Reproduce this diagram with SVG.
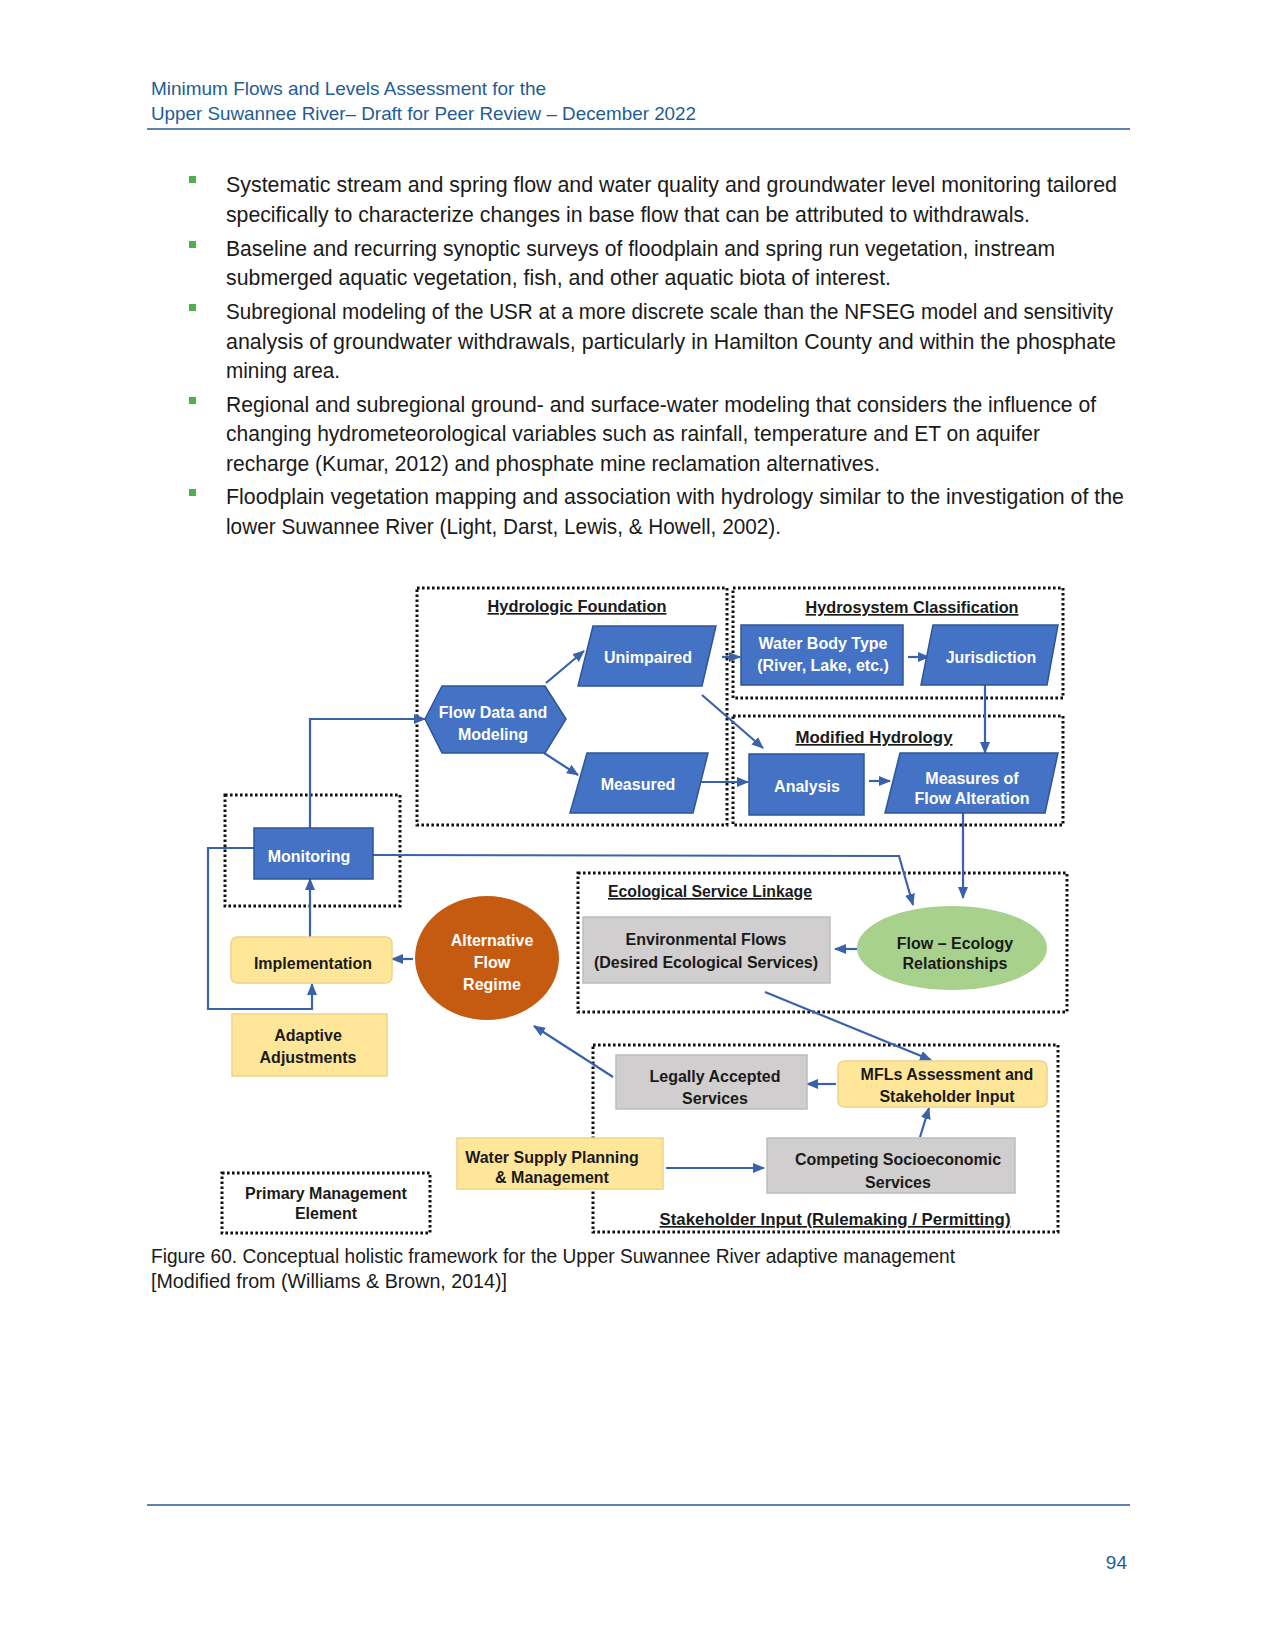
<svg xmlns="http://www.w3.org/2000/svg" width="1275" height="1651" viewBox="0 0 1275 1651">
<defs>
<marker id="ah" markerUnits="userSpaceOnUse" markerWidth="12" markerHeight="11" refX="11" refY="5" orient="auto">
<path d="M0,0 L12,5 L0,10 z" fill="#3A62AA"/>
</marker>
<style>
.hdr{font-family:"Liberation Sans",Arial,sans-serif;font-size:18.5px;fill:#1F5C96}
.body{font-family:"Liberation Sans",Arial,sans-serif;font-size:22px;fill:#1a1a1a}
.cap{font-family:"Liberation Sans",Arial,sans-serif;font-size:19.5px;fill:#1a1a1a}
.bul{fill:#4DB04A}
.grp{fill:none;stroke:#111;stroke-width:3;stroke-dasharray:2.6 2.4}
.ttl{font-family:"Liberation Sans",Arial,sans-serif;font-size:16.5px;font-weight:bold;fill:#1a1a1a;text-decoration:underline;text-anchor:middle}
.blue{fill:#4472C4;stroke:#2F5597;stroke-width:1.5}
.wt{font-family:"Liberation Sans",Arial,sans-serif;font-size:16px;font-weight:bold;fill:#fff;text-anchor:middle}
.dt{font-family:"Liberation Sans",Arial,sans-serif;font-size:16px;font-weight:bold;fill:#1a1a1a;text-anchor:middle}
.yel{fill:#FFE699;stroke:#EBD48A;stroke-width:1.5}
.gry{fill:#D0CECE;stroke:#BDBDBD;stroke-width:1.5}
.con{fill:none;stroke:#3A62AA;stroke-width:2.2}
.arr{marker-end:url(#ah)}
.rule{stroke:#5E82AA;stroke-width:2}
</style>
</defs>
<rect width="1275" height="1651" fill="#fff"/>

<g id="header">
<text class="hdr" x="151" y="95" textLength="395" lengthAdjust="spacingAndGlyphs">Minimum Flows and Levels Assessment for the</text>
<text class="hdr" x="151" y="120" textLength="545" lengthAdjust="spacingAndGlyphs">Upper Suwannee River– Draft for Peer Review – December 2022</text>
<line class="rule" x1="147" y1="129" x2="1130" y2="129"/>
</g>

<g id="bullets">
<rect class="bul" x="189" y="176" width="7" height="7"/>
<rect class="bul" x="189" y="241" width="7" height="7"/>
<rect class="bul" x="189" y="304" width="7" height="7"/>
<rect class="bul" x="189" y="397" width="7" height="7"/>
<rect class="bul" x="189" y="489" width="7" height="7"/>
<text class="body" x="226" y="192" textLength="891" lengthAdjust="spacingAndGlyphs">Systematic stream and spring flow and water quality and groundwater level monitoring tailored</text>
<text class="body" x="226" y="222" textLength="804" lengthAdjust="spacingAndGlyphs">specifically to characterize changes in base flow that can be attributed to withdrawals.</text>
<text class="body" x="226" y="256" textLength="829" lengthAdjust="spacingAndGlyphs">Baseline and recurring synoptic surveys of floodplain and spring run vegetation, instream</text>
<text class="body" x="226" y="285" textLength="665" lengthAdjust="spacingAndGlyphs">submerged aquatic vegetation, fish, and other aquatic biota of interest.</text>
<text class="body" x="226" y="319" textLength="887" lengthAdjust="spacingAndGlyphs">Subregional modeling of the USR at a more discrete scale than the NFSEG model and sensitivity</text>
<text class="body" x="226" y="349" textLength="890" lengthAdjust="spacingAndGlyphs">analysis of groundwater withdrawals, particularly in Hamilton County and within the phosphate</text>
<text class="body" x="226" y="378" textLength="114" lengthAdjust="spacingAndGlyphs">mining area.</text>
<text class="body" x="226" y="412" textLength="870" lengthAdjust="spacingAndGlyphs">Regional and subregional ground- and surface-water modeling that considers the influence of</text>
<text class="body" x="226" y="441" textLength="814" lengthAdjust="spacingAndGlyphs">changing hydrometeorological variables such as rainfall, temperature and ET on aquifer</text>
<text class="body" x="226" y="471" textLength="654" lengthAdjust="spacingAndGlyphs">recharge (Kumar, 2012) and phosphate mine reclamation alternatives.</text>
<text class="body" x="226" y="504" textLength="898" lengthAdjust="spacingAndGlyphs">Floodplain vegetation mapping and association with hydrology similar to the investigation of the</text>
<text class="body" x="226" y="534" textLength="555" lengthAdjust="spacingAndGlyphs">lower Suwannee River (Light, Darst, Lewis, &amp; Howell, 2002).</text>
</g>

<g id="groups">
<rect class="grp" x="417" y="588" width="310" height="237"/>
<text class="ttl" x="577" y="612" textLength="179" lengthAdjust="spacingAndGlyphs">Hydrologic Foundation</text>
<rect class="grp" x="733" y="588" width="330" height="110"/>
<text class="ttl" x="912" y="613" textLength="213" lengthAdjust="spacingAndGlyphs">Hydrosystem Classification</text>
<rect class="grp" x="733" y="716" width="330" height="109"/>
<text class="ttl" x="874" y="743" textLength="157" lengthAdjust="spacingAndGlyphs">Modified Hydrology</text>
<rect class="grp" x="225" y="795" width="175" height="111"/>
<rect class="grp" x="578" y="873" width="489" height="139"/>
<text class="ttl" x="710" y="897" textLength="204" lengthAdjust="spacingAndGlyphs">Ecological Service Linkage</text>
<rect class="grp" x="593" y="1045" width="465" height="187"/>
<text class="ttl" x="835" y="1225" textLength="351" lengthAdjust="spacingAndGlyphs">Stakeholder Input (Rulemaking / Permitting)</text>
</g>

<g id="connectors">
<line class="con arr" x1="546" y1="683" x2="584" y2="651"/>
<line class="con arr" x1="544" y1="753" x2="578" y2="775"/>
<line class="con arr" x1="722" y1="657" x2="740" y2="657"/>
<line class="con arr" x1="702" y1="695" x2="763" y2="748"/>
<line class="con arr" x1="698" y1="782" x2="748" y2="782"/>
<line class="con arr" x1="908" y1="657" x2="929" y2="657"/>
<line class="con arr" x1="985" y1="685" x2="985" y2="753"/>
<line class="con arr" x1="869" y1="781" x2="890" y2="781"/>
<line class="con arr" x1="963" y1="813" x2="963" y2="898"/>
<polyline class="con arr" points="310,828 310,719 425,719"/>
<polyline class="con arr" points="373,855 899,856 913,905"/>
<line class="con arr" x1="310" y1="937" x2="310" y2="879"/>
<line class="con arr" x1="413" y1="959" x2="392" y2="959"/>
<polyline class="con arr" points="254,848 208,848 208,1009 312,1009 312,984"/>
<line class="con arr" x1="613" y1="1077" x2="534" y2="1026"/>
<line class="con arr" x1="857" y1="949" x2="835" y2="949"/>
<line class="con arr" x1="765" y1="992" x2="931" y2="1060"/>
<line class="con arr" x1="836" y1="1084" x2="807" y2="1084"/>
<line class="con arr" x1="920" y1="1137" x2="929" y2="1108"/>
<line class="con arr" x1="666" y1="1168" x2="764" y2="1168"/>
</g>

<g id="unimpaired">
<polygon class="blue" points="593,626 716,626 702,686 578,686"/>
<text class="wt" x="648" y="663">Unimpaired</text>
</g>
<g id="flow-data">
<polygon class="blue" points="425,719 442,686 545,686 566,719 545,753 442,753"/>
<text class="wt" x="493" y="718">Flow Data and</text>
<text class="wt" x="493" y="740">Modeling</text>
</g>
<g id="measured">
<polygon class="blue" points="587,753 708,753 693,813 570,813"/>
<text class="wt" x="638" y="790">Measured</text>
</g>
<g id="water-body">
<rect class="blue" x="741" y="625" width="162" height="60"/>
<text class="wt" x="823" y="649">Water Body Type</text>
<text class="wt" x="823" y="671">(River, Lake, etc.)</text>
</g>
<g id="jurisdiction">
<polygon class="blue" points="933,625 1058,625 1047,685 921,685"/>
<text class="wt" x="991" y="663">Jurisdiction</text>
</g>
<g id="analysis">
<rect class="blue" x="749" y="754" width="115" height="61"/>
<text class="wt" x="807" y="792">Analysis</text>
</g>
<g id="measures">
<polygon class="blue" points="900,753 1058,753 1045,813 885,813"/>
<text class="wt" x="972" y="784">Measures of</text>
<text class="wt" x="972" y="804">Flow Alteration</text>
</g>
<g id="monitoring">
<rect class="blue" x="254" y="828" width="119" height="51"/>
<text class="wt" x="309" y="862">Monitoring</text>
</g>
<g id="implementation">
<rect class="yel" x="231" y="937" width="161" height="46" rx="6"/>
<text class="dt" x="313" y="969">Implementation</text>
</g>
<g id="alternative">
<ellipse cx="487" cy="958" rx="72" ry="62" fill="#C55A11"/>
<text class="wt" x="492" y="946">Alternative</text>
<text class="wt" x="492" y="968">Flow</text>
<text class="wt" x="492" y="990">Regime</text>
</g>
<g id="adaptive">
<rect class="yel" x="232" y="1014" width="155" height="62"/>
<text class="dt" x="308" y="1041">Adaptive</text>
<text class="dt" x="308" y="1063">Adjustments</text>
</g>
<g id="env-flows">
<rect class="gry" x="583" y="917" width="247" height="66"/>
<text class="dt" x="706" y="945">Environmental Flows</text>
<text class="dt" x="706" y="968">(Desired Ecological Services)</text>
</g>
<g id="flow-ecology">
<ellipse cx="952" cy="948" rx="95" ry="42" fill="#A9D18E"/>
<text class="dt" x="955" y="949">Flow – Ecology</text>
<text class="dt" x="955" y="969">Relationships</text>
</g>
<g id="legally">
<rect class="gry" x="616" y="1055" width="191" height="54"/>
<text class="dt" x="715" y="1082">Legally Accepted</text>
<text class="dt" x="715" y="1104">Services</text>
</g>
<g id="mfls">
<rect class="yel" x="838" y="1061" width="209" height="46" rx="6"/>
<text class="dt" x="947" y="1080">MFLs Assessment and</text>
<text class="dt" x="947" y="1102">Stakeholder Input</text>
</g>
<g id="competing">
<rect class="gry" x="767" y="1138" width="248" height="55"/>
<text class="dt" x="898" y="1165">Competing Socioeconomic</text>
<text class="dt" x="898" y="1188">Services</text>
</g>
<g id="water-supply">
<rect class="yel" x="457" y="1138" width="206" height="51"/>
<text class="dt" x="552" y="1163">Water Supply Planning</text>
<text class="dt" x="552" y="1183">&amp; Management</text>
</g>
<g id="legend">
<rect class="grp" x="222" y="1173" width="208" height="60"/>
<text class="dt" x="326" y="1199">Primary Management</text>
<text class="dt" x="326" y="1219">Element</text>
</g>

<g id="caption">
<text class="cap" x="151" y="1263" textLength="804" lengthAdjust="spacingAndGlyphs">Figure 60. Conceptual holistic framework for the Upper Suwannee River adaptive management</text>
<text class="cap" x="151" y="1288" textLength="356" lengthAdjust="spacingAndGlyphs">[Modified from (Williams &amp; Brown, 2014)]</text>
</g>

<g id="footer">
<line class="rule" x1="147" y1="1505" x2="1130" y2="1505"/>
<text x="1127" y="1569" text-anchor="end" font-family="Liberation Sans, Arial, sans-serif" font-size="19" fill="#1F5C96">94</text>
</g>
</svg>
